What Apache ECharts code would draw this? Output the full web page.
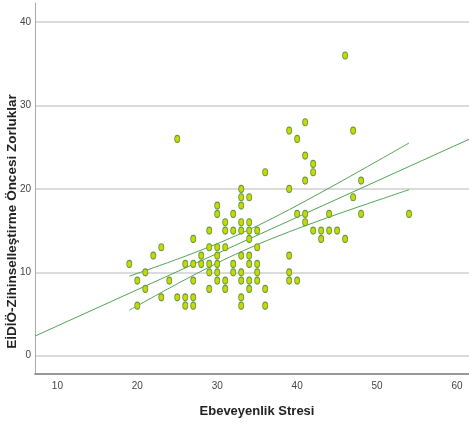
<!DOCTYPE html>
<html><head><meta charset="utf-8">
<script src="https://cdn.jsdelivr.net/npm/echarts@6/dist/echarts.min.js"></script>
<style>html,body{margin:0;padding:0;background:#fff}#c{width:469px;height:425px}</style>
</head><body><div id="c"></div>
<script>
// Scatter points: Ebeveyenlik Stresi (x) vs EİDİÖ score (y)
const stressX = [19,20,20,21,21,22,23,23,24,25,25,26,26,26,27,27,27,27,27,28,28,
  29,29,29,29,29,30,30,30,30,30,30,30,31,31,31,31,31,32,32,32,32,
  33,33,33,33,33,33,33,33,33,33,34,34,34,34,34,34,34,34,35,35,35,35,35,
  36,36,36,39,39,39,39,39,40,40,40,41,41,41,41,41,42,42,42,43,43,44,44,45,
  46,46,47,47,48,48,54];
const eidioY = [11,9,6,10,8,12,13,7,9,26,7,11,7,6,14,11,9,7,6,12,11,
  15,13,11,10,8,18,17,13,12,11,10,9,16,15,13,9,8,17,15,11,10,
  20,19,18,16,15,12,10,9,7,6,19,16,15,14,12,11,9,8,15,13,11,10,9,
  22,8,6,27,20,12,10,9,26,17,9,28,24,21,17,16,23,22,15,15,14,17,15,15,
  36,14,27,19,21,17,17];
// Fit line read at the plot edges
const fitX = [7.2, 61.5];
const fitY = [2.35, 25.95];
// Confidence band curves
const bandX = [19, 25, 30, 33, 36, 40, 45, 50, 54];
const bandUpper = [9.53, 11.57, 13.43, 14.68, 16.04, 18.02, 20.63, 23.33, 25.51];
const bandLower = [5.45, 8.62, 11.11, 12.47, 13.72, 15.22, 16.96, 18.61, 19.91];
// Tick labels
const xTicks = [10, 20, 30, 40, 50, 60];
const yTicks = [0, 10, 20, 30, 40];

const pts = stressX.map((x, i) => [x, eidioY[i]]);
const fit = fitX.map((x, i) => [x, fitY[i]]);
const up = bandX.map((x, i) => [x, bandUpper[i]]);
const lo = bandX.map((x, i) => [x, bandLower[i]]);

const chart = echarts.init(document.getElementById('c'), null, {renderer: 'canvas'});
const narrow = "'Liberation Sans Narrow', 'Liberation Sans', Arial, sans-serif";
const lineCol = '#52a552';
chart.setOption({
  animation: false,
  backgroundColor: '#fff',
  grid: {left: 35, right: 0, top: 3, bottom: 51, containLabel: false, outerBoundsMode: 'none'},
  xAxis: {
    type: 'value', min: 7.2, max: 61.5, splitNumber: 5,
    name: 'Ebeveyenlik Stresi', nameLocation: 'middle', nameGap: 31, nameMoveOverlap: false,
    nameTextStyle: {fontFamily: narrow, fontSize: 13, fontWeight: 'bold', color: '#222', padding: [0, 0, 0, 10]},
    axisLine: {onZero: false, lineStyle: {color: '#777', width: 1.5}},
    axisTick: {show: false},
    splitLine: {show: false},
    axisLabel: {
      showMinLabel: false, showMaxLabel: false, margin: 7,
      fontFamily: narrow, fontSize: 10, color: '#444',
      formatter: v => xTicks.includes(v) ? String(v) : ''
    }
  },
  yAxis: {
    type: 'value', min: -2.2, max: 42.3, splitNumber: 5,
    name: 'EİDİÖ-Zihinselleştirme Öncesi Zorluklar', nameLocation: 'middle', nameGap: 16, nameMoveOverlap: false,
    nameTextStyle: {fontFamily: "'Liberation Sans', Arial, sans-serif", fontSize: 13.5, fontWeight: 'bold', color: '#222', padding: [0, 66, 0, 0]},
    axisLine: {show: true, onZero: false, lineStyle: {color: '#aaa', width: 1}},
    axisTick: {show: false},
    splitLine: {show: true, showMinLine: false, showMaxLine: false, lineStyle: {color: '#cfcfcf', width: 1.5}},
    axisLabel: {
      showMinLabel: false, showMaxLabel: false, margin: 4,
      fontFamily: narrow, fontSize: 10, color: '#444',
      formatter: v => yTicks.includes(v) ? String(v) : ''
    }
  },
  series: [
    {type: 'line', data: fit, symbol: 'none', lineStyle: {color: lineCol, width: 1}, z: 3},
    {type: 'line', data: up, symbol: 'none', smooth: 0.3, lineStyle: {color: lineCol, width: 1}, z: 3},
    {type: 'line', data: lo, symbol: 'none', smooth: 0.3, lineStyle: {color: lineCol, width: 1}, z: 3},
    {type: 'scatter', data: pts, symbol: 'circle', symbolSize: [5, 7],
     itemStyle: {color: '#cdd600', borderColor: '#5c9c3c', borderWidth: 1, opacity: 1}, z: 4}
  ]
});
</script></body></html>
